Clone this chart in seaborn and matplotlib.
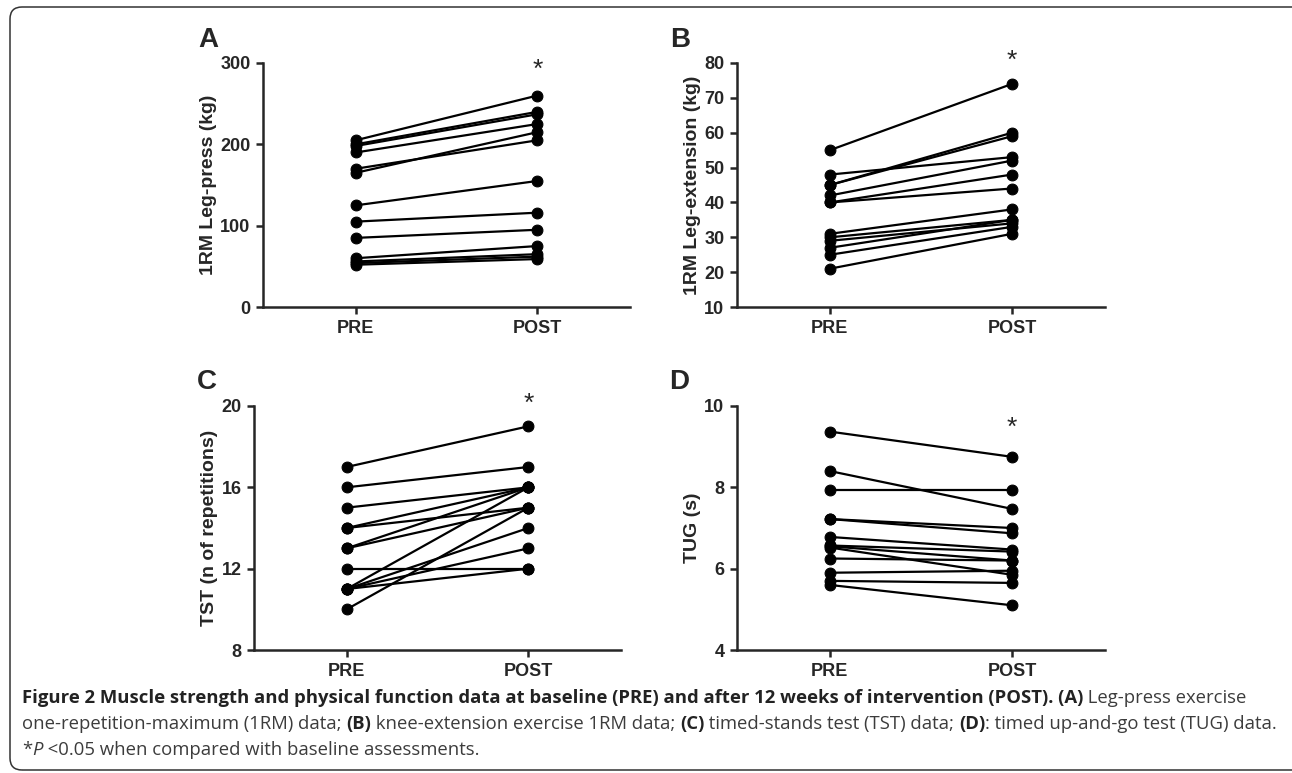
import numpy as np
import pandas as pd
import seaborn as sns
import matplotlib.pyplot as plt
from matplotlib import font_manager
from matplotlib.patches import FancyBboxPatch
from matplotlib.transforms import IdentityTransform

# values (13 subjects, PRE -> POST)
times = ["PRE", "POST"]

leg_press_pre = [205, 200, 198, 190, 170, 165, 125, 105, 85, 60, 56, 54, 52]
leg_press_post = [260, 240, 237, 225, 205, 215, 155, 116, 95, 75, 65, 62, 59]

leg_ext_pre = [55, 48, 45, 45, 42, 40, 40, 31, 30, 29, 27, 25, 21]
leg_ext_post = [74, 53, 60, 59, 52, 48, 44, 38, 35, 34, 35, 33, 31]

tst_pre = [17, 16, 15, 14, 14, 13, 13, 12, 11, 11, 11, 11, 10]
tst_post = [19, 17, 16, 16, 15, 16, 15, 12, 16, 14, 13, 12, 15]

tug_pre = [9.37, 8.4, 7.93, 7.22, 7.22, 6.78, 6.57, 6.55, 6.52, 6.25, 5.9, 5.7, 5.6]
tug_post = [8.75, 7.47, 7.93, 7.0, 6.87, 6.47, 6.42, 6.2, 5.85, 6.2, 5.95, 5.65, 5.1]

panels = [
    ("A", "1RM Leg-press (kg)", leg_press_pre, leg_press_post, (0, 300), [0, 100, 200, 300], 291),
    ("B", "1RM Leg-extension (kg)", leg_ext_pre, leg_ext_post, (10, 80), list(range(10, 81, 10)), 80.6),
    ("C", "TST (n of repetitions)", tst_pre, tst_post, (8, 20), [8, 12, 16, 20], 20.1),
    ("D", "TUG (s)", tug_pre, tug_post, (4, 10), [4, 6, 8, 10], 9.45),
]

# axes boxes in figure fractions [left, bottom, width, height]
boxes = [
    [0.2036, 0.6028, 0.2841, 0.3157],
    [0.5704, 0.6028, 0.2848, 0.3157],
    [0.1966, 0.1591, 0.2841, 0.3157],
    [0.5704, 0.1591, 0.2848, 0.3157],
]
letter_pos = [(198, 47), (670, 47), (197, 389), (669, 389)]

sns.set_style("ticks")
plt.rcParams["font.family"] = ["Liberation Sans", "DejaVu Sans"]

W, H = 1292, 773
fig = plt.figure(figsize=(W / 100, H / 100), dpi=100)

for (letter, ylabel, pre, post, ylim, yticks, star_y), box, lp in zip(panels, boxes, letter_pos):
    ax = fig.add_axes(box)
    n = len(pre)
    df = pd.DataFrame({
        "subject": list(range(n)) * 2,
        "time": [times[0]] * n + [times[1]] * n,
        "value": list(pre) + list(post),
    })
    sns.lineplot(data=df, x="time", y="value", units="subject", estimator=None,
                 color="black", linewidth=1.6, marker="o", markersize=7.8,
                 markeredgecolor="black", ax=ax, legend=False)
    ax.set_xlim(-0.51, 1.51)
    ax.set_ylim(*ylim)
    ax.set_yticks(yticks)
    ax.set_xticks([0, 1])
    ax.set_xticklabels(times)
    ax.set_xlabel("")
    ax.set_ylabel(ylabel, fontsize=14, fontweight="bold", labelpad=2.5)
    for lab in ax.get_xticklabels() + ax.get_yticklabels():
        lab.set_fontweight("bold")
        lab.set_fontsize(13)
    ax.tick_params(width=1.8, length=5, direction="out", pad=4)
    for side in ["left", "bottom"]:
        ax.spines[side].set_linewidth(1.8)
    sns.despine(ax=ax)
    ax.text(1, star_y, "*", ha="center", va="center", fontsize=19)
    fig.text(lp[0] / W, 1 - lp[1] / H, letter, fontsize=20, fontweight="bold",
             ha="left", va="baseline")

# frame around figure + caption
frame = FancyBboxPatch((10, 3), 1300, 763, boxstyle="round,pad=0,rounding_size=12",
                       transform=IdentityTransform(), facecolor="none",
                       edgecolor="#333333", linewidth=1.1)
fig.add_artist(frame)

names = {f.name for f in font_manager.fontManager.ttflist}
cap_font = "Liberation Sans Narrow" if "Liberation Sans Narrow" in names else "Open Sans"

caption = [
    [("Figure 2 Muscle strength and physical function data at baseline (PRE) and after 12 weeks of intervention (POST). (A)", "bold"),
     (" Leg-press exercise", "normal")],
    [("one-repetition-maximum (1RM) data; ", "normal"), ("(B)", "bold"),
     (" knee-extension exercise 1RM data; ", "normal"), ("(C)", "bold"),
     (" timed-stands test (TST) data; ", "normal"), ("(D)", "bold"),
     (": timed up-and-go test (TUG) data.", "normal")],
    [("*", "normal"), ("P", "italic"), (" <0.05 when compared with baseline assessments.", "normal")],
]
line_y = [703, 729, 755]
renderer = fig.canvas.get_renderer()


def draw_line(parts, y, size):
    x = 22
    for s, w in parts:
        kw = {"fontweight": "bold"} if w == "bold" else {}
        if w == "italic":
            kw["fontstyle"] = "italic"
        t = fig.text(x / W, 1 - y / H, s, fontsize=size, family=cap_font,
                     color="#222222" if w == "bold" else "#3c3c3c",
                     ha="left", va="baseline", **kw)
        bb = t.get_window_extent(renderer=renderer)
        x = bb.x1
    return x


size = 13.3
for parts, y in zip(caption, line_y):
    draw_line(parts, y, size)

fig.savefig("out.png", dpi=100)
